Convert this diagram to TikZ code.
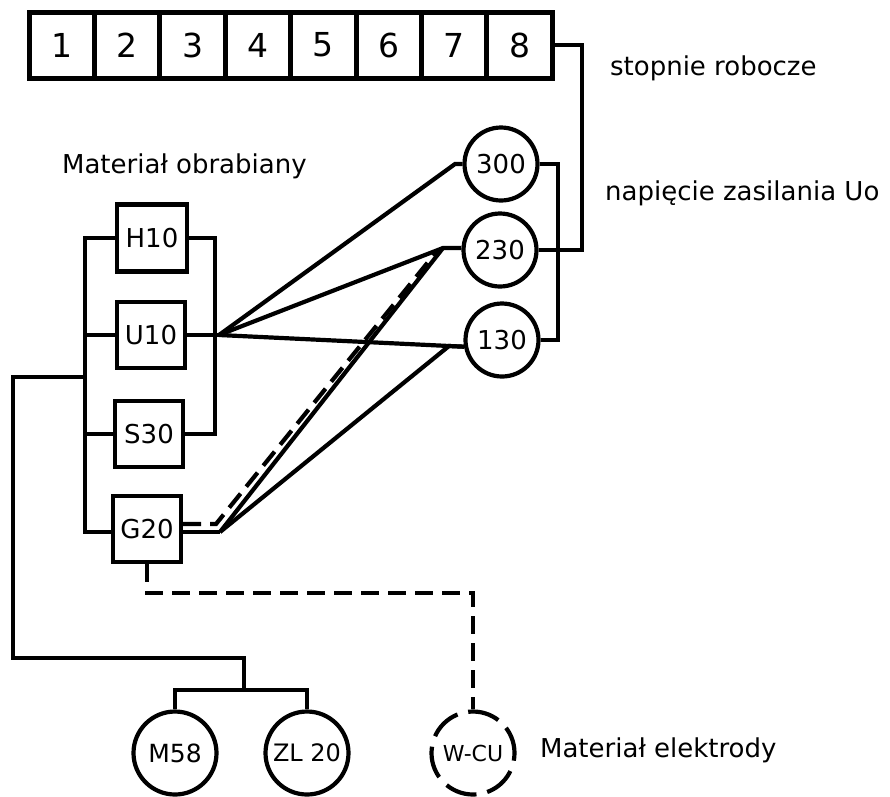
\documentclass[tikz,border=0pt]{standalone}
\usepackage{fontspec}
\setmainfont{DejaVu Sans}
\begin{document}
\begin{tikzpicture}[x=1pt,y=-1pt,
  line width=4.2pt, line join=miter,
  lbl/.style={font=\fontsize{26}{30}\selectfont, inner sep=0pt},
  stage/.style={draw, line width=5pt, minimum width=65.4pt, minimum height=66pt, inner sep=0pt, font=\fontsize{33}{36}\selectfont},
  mat/.style={draw, minimum width=68pt, minimum height=66pt, inner sep=0pt, font=\fontsize{26}{30}\selectfont},
  volt/.style={draw, circle, minimum size=73pt, inner sep=0pt, font=\fontsize{26}{30}\selectfont},
  elec/.style={draw, circle, minimum size=83pt, inner sep=0pt, font=\fontsize{25}{29}\selectfont},
  dsh/.style={dash pattern=on 18pt off 9pt}
]
\useasboundingbox (0,0) rectangle (890,796);

% working stages
\foreach \i in {1,...,8} \node[stage] (b\i) at ({29+65.4*(\i-0.5)},45) {\i};
\node[lbl, anchor=base west] (tstop) at (608,75) {stopnie robocze};

% voltage circles
\node[volt] (c300) at (501,164) {300};
\node[volt] (c230) at (500,250) {230};
\node[volt] (c130) at (502,340) {130};
\node[lbl, anchor=base west] (tnap) at (603,200) {napięcie zasilania Uo};

% material boxes
\node[lbl, anchor=base west] (tmat) at (60,173) {Materiał obrabiany};
\node[mat, minimum width=70pt, minimum height=67pt] (H10) at (152,238) {H10};
\node[mat] (U10) at (151,335) {U10};
\node[mat] (S30) at (149,434) {S30};
\node[mat] (G20) at (147,529) {G20};

% electrode circles
\node[elec] (M58) at (175,753) {M58};
\node[elec, font=\fontsize{24}{28}\selectfont] (ZL20) at (307,753) {ZL 20};
\node[elec, font=\fontsize{22}{26}\selectfont, dash pattern=on 32pt off 11pt, dash phase=48pt] (WCU) at (473,753) {W-CU};
\node[lbl, anchor=base west] (tel) at (538,757) {Materiał elektrody};

% coordinates
\coordinate (r1) at (582,45);
\coordinate (L1) at (85,238);
\coordinate (L4) at (85,532);
\coordinate (R1) at (215,238);
\coordinate (R3) at (215,434);
\coordinate (J1) at (219,335);
\coordinate (p300) at (455,164);
\coordinate (p230) at (443,248);
\coordinate (J2) at (220,532);
\coordinate (p130) at (449,346);
\coordinate (J3) at (216,524);
\coordinate (q230) at (437,251);
\coordinate (D1) at (147,593);
\coordinate (D2) at (473,593);
\coordinate (K0) at (85,377);
\coordinate (K1) at (13,377);
\coordinate (K2) at (13,658);
\coordinate (K3) at (244,658);
\coordinate (K4) at (244,690);
\coordinate (K5) at (175,690);
\coordinate (K6) at (307,690);

% stage 8 to 230 V
\draw (b8.east) -- (r1) |- (c230.east);
% 300 and 130 joined
\draw (c300.east) -- ++(18,0) |- (c130.east);

% left and right buses
\draw (H10.west) -- (L1) -- (L4) -- (G20.west |- L4);
\draw (U10.west) -- (U10.west -| L1);
\draw (S30.west) -- (S30.west -| L1);
\draw (H10.east) -- (R1) -- (R3) -- (S30.east);

% U10 fan
\draw (U10.east) -- (J1);
\draw (J1) -- (p300) -- (c300.west);
\draw (J1) -- (p230) -- (c230.west |- p230);
\draw (J1) -- (c130.190);

% G20 fan
\draw (G20.east |- J2) -- (J2);
\draw (J2) -- (p230);
\draw (J2) -- (p130) -- (c130.190);
\draw[dsh] (G20.east |- J3) -- (J3) -- (q230);

% G20 to electrode W-CU
\draw[dsh] (G20.south) -- (D1) -- (D2) -- (WCU.north);

% left loop to electrodes M58, ZL20
\draw (K0) -- (K1) -- (K2) -- (K3) -- (K4);
\draw (M58.north) -- (K5) -- (K6) -- (ZL20.north);
\end{tikzpicture}
\end{document}
